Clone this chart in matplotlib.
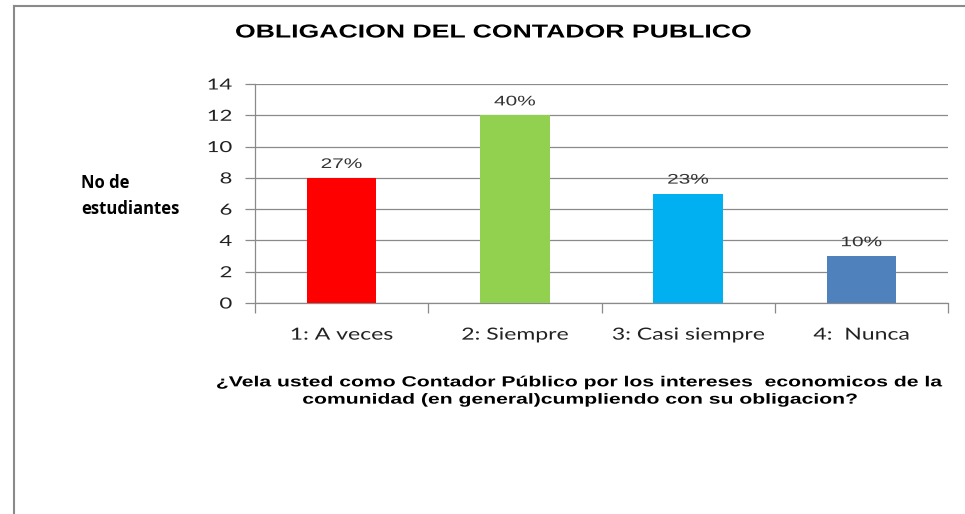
import matplotlib
matplotlib.use("Agg")
import matplotlib.pyplot as plt
from matplotlib.lines import Line2D
from matplotlib.patheffects import AbstractPathEffect
from matplotlib.transforms import Affine2D

categories = ["1: A veces", "2: Siempre", "3: Casi siempre", "4:  Nunca"]
values = [8, 12, 7, 3]
percent_labels = ["27%", "40%", "23%", "10%"]
colors = ["#FF0000", "#92D050", "#00B0F0", "#4F81BD"]
yticks = [0, 2, 4, 6, 8, 10, 12, 14]

title = "OBLIGACION DEL CONTADOR PUBLICO"
ylabel = "No de\nestudiantes"
xlabel = ("¿Vela usted como Contador Público por los intereses  economicos de la\n"
          "comunidad (en general)cumpliendo con su obligacion?")


class HStretch(AbstractPathEffect):
    """Draw text glyphs stretched horizontally (the reference is widened)."""
    def __init__(self, sx, anchor="center"):
        super().__init__()
        self.sx = sx
        self.anchor = anchor

    def draw_path(self, renderer, gc, tpath, affine, rgbFace=None):
        bb = tpath.get_extents(affine)
        if self.anchor == "center":
            cx = (bb.x0 + bb.x1) / 2
        elif self.anchor == "right":
            cx = bb.x1
        else:
            cx = bb.x0
        t = affine + Affine2D().translate(-cx, 0).scale(self.sx, 1).translate(cx, 0)
        renderer.draw_path(gc, tpath, t, rgbFace)


fig = plt.figure(figsize=(9.65, 5.14), dpi=100)
ax = fig.add_axes([255/965, 1-303/514, (948-255)/965, (303-84)/514])

x = list(range(len(categories)))
ax.bar(x, values, width=0.4, color=colors, zorder=3)
ax.set_xlim(-0.5, len(categories) - 0.5)
ax.set_ylim(0, 14)
ax.set_yticks(yticks)
ax.set_yticklabels([str(t) for t in yticks], fontfamily="Lato", fontsize=11, color="#222222")
ax.yaxis.grid(True, color="#8a8a8a", linewidth=0.9, zorder=0)
ax.set_axisbelow(True)
ax.tick_params(axis="y", length=7.5, color="#8a8a8a", width=0.9, pad=9)

# x ticks at category boundaries
ax.set_xticks([i - 0.5 for i in range(len(categories) + 1)])
ax.set_xticklabels([])
ax.set_xticks(x, minor=True)
ax.set_xticklabels(categories, minor=True, fontfamily="Lato", fontsize=12, color="#222222")
ax.tick_params(axis="x", which="major", length=7.5, color="#8a8a8a", width=0.9)
ax.tick_params(axis="x", which="minor", length=0, pad=17)

for lbl in ax.get_yticklabels():
    lbl.set_path_effects([HStretch(1.45, "right")])
for lbl in ax.get_xticklabels(minor=True):
    lbl.set_path_effects([HStretch(1.38, "center")])

for s in ["top", "right"]:
    ax.spines[s].set_visible(False)
for s in ["left", "bottom"]:
    ax.spines[s].set_color("#8a8a8a")
    ax.spines[s].set_linewidth(0.9)

for xi, v, lab in zip(x, values, percent_labels):
    t = ax.annotate(lab, (xi, v), xytext=(0, 10), textcoords="offset points",
                    ha="center", va="center", fontsize=10, fontfamily="Liberation Sans",
                    color="#333333")
    t.set_path_effects([HStretch(1.5, "center")])

t_title = fig.text(493/965, 1-33/514, title, ha="center", va="center", fontsize=13.5,
                   fontweight="bold", fontfamily="Liberation Sans")
t_title.set_path_effects([HStretch(1.42, "center")])

fig.text(81/965, 1-196/514, ylabel, ha="left", va="center", multialignment="left",
         fontsize=12, fontweight="bold", fontfamily="Open Sans", linespacing=1.5)

t_x = fig.text(581/965, 1-391/514, xlabel, ha="center", va="center", fontsize=10.5,
               fontweight="bold", fontfamily="Liberation Sans", linespacing=1.3)
t_x.set_path_effects([HStretch(1.45, "center")])

# chart border (left and top)
fig.add_artist(Line2D([14/965, 14/965], [0, 1-6/514], transform=fig.transFigure,
                      color="#8a8a8a", linewidth=1.5))
fig.add_artist(Line2D([14/965, 1], [1-6/514, 1-6/514], transform=fig.transFigure,
                      color="#8a8a8a", linewidth=1.5))

fig.savefig("out.png", dpi=100)
